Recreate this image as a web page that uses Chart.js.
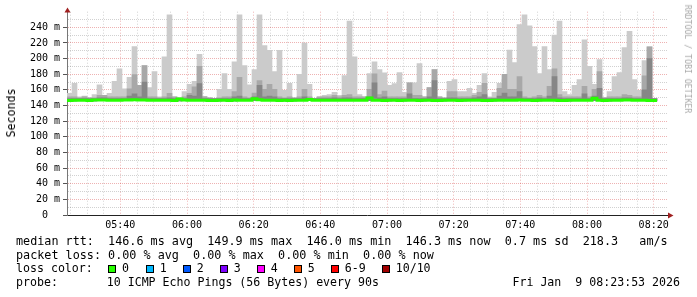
<!DOCTYPE html>
<html>
<head>
<meta charset="utf-8">
<script src="https://cdn.jsdelivr.net/npm/chart.js@4/dist/chart.umd.min.js"></script>
<style>
  body { margin: 0; background: #fff; }
  #wrap { position: relative; width: 697px; height: 297px; font-family: 'DejaVu Sans Mono', monospace; color: #000; }
  #chart { position: absolute; left: 0; top: 0; }
  .txt { position: absolute; white-space: pre; font-size: 11.6px; line-height: 14px; }
  .wide { font-size: 11.78px; }
  .box { position: absolute; top: 265px; width: 8px; height: 8px; box-sizing: border-box; border: 1px solid #000; }
  .rot { position: absolute; white-space: pre; transform: translate(-50%, -50%) rotate(-90deg); }
</style>
</head>
<body>
<div id="wrap">
  <canvas id="chart" width="697" height="297"></canvas>
  <div class="rot" style="left:10.5px; top:113px; font-size:11.6px;">Seconds</div>
  <div class="rot" style="left:687.5px; top:59px; font-size:8.2px; color:#a8a8a8; transform: translate(-50%, -50%) rotate(90deg);">RRDTOOL / TOBI OETIKER</div>
  <div class="txt wide" style="left:16px; top:234px;">median rtt:  146.6 ms avg  149.9 ms max  146.0 ms min  146.3 ms now  0.7 ms sd  218.3   am/s</div>
  <div class="txt wide" style="left:16px; top:247.7px;">packet loss: 0.00 % avg  0.00 % max  0.00 % min  0.00 % now</div>
  <div class="txt" style="left:16px; top:261.4px;">loss color:</div>
  <div class="txt" style="left:16px; top:275.1px;">probe:       10 ICMP Echo Pings (56 Bytes) every 90s</div>
  <div class="txt" style="right:17px; top:275.1px;">Fri Jan  9 08:23:53 2026</div>
</div>
<script>
// time slots: 90s steps starting 05:24 (minutes since midnight)
const startMin = 324;
const stepMin = 1.5;

// top of the smoke (max of 10 pings), ms
const maxRtt = [
  155.6, 168.3, 151, 152, 150, 154, 166.6, 153, 155.6, 170.8,
  187, 161.5, 176, 215.5, 165.7, 191, 163, 183.5, 151, 202.4,
  256, 151, 150, 158, 167, 170.8, 205.4, 151.8, 150, 149,
  160.7, 181, 160.7, 196, 256, 191, 166.6, 186, 256, 216.8,
  210.5, 183.5, 210.5, 159.4, 168.3, 150, 180, 220, 167, 149,
  151, 153, 154, 157, 153, 178.4, 248, 202.4, 154, 151,
  181, 196, 186, 181.8, 165.7, 168, 182, 157, 169, 169,
  193.6, 151, 163, 186, 151, 150, 171, 173.3, 158, 158,
  162, 155.6, 165.7, 181, 151, 157, 168.3, 173.3, 211, 195,
  243.4, 256, 242, 215.5, 181, 215.5, 186, 230, 248, 158,
  154, 165.7, 173.3, 224, 190, 167, 198.7, 150.5, 158, 177,
  182, 214, 235, 173.3, 159.4, 197.4, 215, 149
];

// second smoke band (ping 2..9), ms
const upperRtt = [
  151, 151, 150, 151, 150, 150, 153, 153, 151, 151,
  151, 151, 161.5, 179.7, 165.7, 191, 151, 151, 150, 151,
  155.6, 151, 150, 151, 155.6, 164, 190, 151, 150, 149,
  150, 151, 151, 158, 176, 151, 150, 156, 172, 160.7,
  167, 160.7, 151, 150, 151, 150, 151, 160.7, 151, 149,
  151, 151, 151, 153, 151, 153, 154, 151, 151, 151,
  160.7, 180.5, 154, 158.6, 151, 151, 151, 151, 169, 153,
  153, 151, 163, 186, 151, 150, 158, 158, 151, 151,
  151, 153, 157, 168.3, 150, 150, 162, 180, 160.7, 160.7,
  177, 151, 150, 151, 153, 151, 164.5, 187, 154, 151,
  151, 151, 151, 164.5, 151, 160.7, 183.5, 150, 151, 151,
  151, 154, 153, 151, 151, 178, 215, 149
];

// inner smoke band (ping 3..8), ms
const innerRtt = [
  149, 149, 149, 149, 149, 149, 150, 150, 149, 149,
  149, 149, 152, 155, 151, 170, 149, 149, 149, 149,
  150, 149, 149, 149, 153, 152, 168, 149, 149, 149,
  149, 149, 149, 151, 152, 149, 149, 151, 165.7, 151,
  152, 151, 149, 149, 149, 149, 149, 151, 149, 149,
  149, 149, 149, 150, 149, 150, 150, 149, 149, 149,
  151, 169, 150, 151, 149, 149, 149, 149, 155, 149,
  149, 149, 151, 172, 149, 149, 150, 150, 149, 149,
  149, 150, 151, 154, 149, 149, 152, 156, 151, 151,
  158, 149, 149, 149, 150, 149, 152, 177, 150, 149,
  149, 149, 149, 155, 149, 152, 162, 149, 149, 149,
  149, 150, 150, 149, 149, 160, 200, 149
];

// median rtt, ms
const medianRtt = [
  146.4, 146.4, 146.6, 146.6, 146.8, 146.4, 147.2, 147.2, 147.0, 146.6,
  146.6, 146.6, 147.2, 147.2, 147.4, 147.0, 147.0, 146.6, 146.6, 146.6,
  146.8, 146.6, 146.4, 148.4, 147.0, 146.6, 146.6, 146.8, 146.6, 146.4,
  146.4, 146.6, 146.6, 146.4, 147.0, 146.8, 146.6, 146.8, 148.8, 147.4,
  146.8, 146.6, 146.6, 146.4, 146.6, 146.4, 146.6, 146.8, 146.6, 147.8,
  146.6, 146.6, 146.8, 146.6, 146.6, 146.6, 146.8, 146.6, 146.6, 146.6,
  146.8, 149.6, 146.8, 146.6, 146.4, 146.6, 146.6, 146.4, 146.6, 146.6,
  146.6, 146.4, 146.6, 146.6, 146.4, 146.4, 146.6, 146.6, 146.6, 146.4,
  146.6, 146.6, 146.6, 146.8, 146.4, 146.4, 146.6, 146.6, 146.6, 146.6,
  146.8, 147.0, 146.6, 146.6, 146.4, 146.6, 146.6, 146.8, 146.6, 146.4,
  146.4, 146.6, 146.6, 146.6, 146.6, 146.6, 149.4, 146.6, 146.4, 146.6,
  146.6, 146.8, 147.2, 147.2, 146.6, 146.6, 146.8, 146.4
];

const yTicks = [0, 10, 20, 30, 40, 50, 60, 70, 80, 90, 100, 110, 120, 130, 140, 150, 160, 170, 180, 190, 200, 210, 220, 230, 240, 250];
const xTicks = [];
for (let t = 325; t <= 500; t += 5) xTicks.push(t);

const lossLabels = ['0', '1', '2', '3', '4', '5', '6-9', '10/10'];
const lossColors = ['#26ff00', '#00b8ff', '#0059ff', '#7e00ff', '#ff00ff', '#ff5500', '#ff0000', '#a10000'];
const lossBoxX = [108, 145.7, 182.7, 219.7, 256.7, 293.7, 330.7, 381.7];

// loss color legend
const wrap = document.getElementById('wrap');
lossLabels.forEach((lbl, i) => {
  const b = document.createElement('div');
  b.className = 'box';
  b.style.left = lossBoxX[i] + 'px';
  b.style.background = lossColors[i];
  wrap.appendChild(b);
  const t = document.createElement('div');
  t.className = 'txt';
  t.style.left = (lossBoxX[i] + 14) + 'px';
  t.style.top = '261.4px';
  t.textContent = lbl;
  wrap.appendChild(t);
});

const barX = i => startMin + stepMin * (i + 0.5);
const band = hi => hi.map((v, i) => ({ x: barX(i), y: [medianRtt[i] - 0.5, v] }));
const medianLine = medianRtt.map((v, i) => ({ x: startMin + stepMin * i, y: v }));
medianLine.push({ x: startMin + stepMin * medianRtt.length, y: medianRtt[medianRtt.length - 1] });

const hhmm = v => String(Math.floor(v / 60)).padStart(2, '0') + ':' + String(v % 60).padStart(2, '0');
const tickVal = c => (c.tick ? c.tick.value : 1);
const gridColor = c => tickVal(c) % 20 === 0 ? 'rgba(200,0,0,0.3)' : 'rgba(0,0,0,0.18)';

const barOpts = { type: 'bar', grouped: false, barPercentage: 1, categoryPercentage: 1, borderWidth: 0 };

// axis arrows
const arrows = {
  id: 'arrows',
  afterDraw(chart) {
    const { ctx, chartArea: a } = chart;
    ctx.save();
    ctx.strokeStyle = '#777';
    ctx.lineWidth = 1;
    ctx.beginPath();
    ctx.moveTo(67.5, a.top); ctx.lineTo(67.5, 10);
    ctx.stroke();
    ctx.strokeStyle = '#222';
    ctx.beginPath();
    ctx.moveTo(a.right, 215.5); ctx.lineTo(669, 215.5);
    ctx.stroke();
    ctx.fillStyle = '#a02020';
    ctx.beginPath();
    ctx.moveTo(64.5, 12.5); ctx.lineTo(70.5, 12.5); ctx.lineTo(67.5, 7.5);
    ctx.closePath(); ctx.fill();
    ctx.beginPath();
    ctx.moveTo(668, 212.5); ctx.lineTo(668, 218.5); ctx.lineTo(673.5, 215.5);
    ctx.closePath(); ctx.fill();
    ctx.restore();
  }
};

new Chart(document.getElementById('chart'), {
  type: 'bar',
  data: {
    datasets: [
      { ...barOpts, data: band(maxRtt), backgroundColor: '#cbcbcb', order: 5 },
      { ...barOpts, data: band(upperRtt), backgroundColor: '#a8a8a8', order: 4 },
      { ...barOpts, data: band(innerRtt), backgroundColor: '#868686', order: 3 },
      {
        type: 'line', data: medianLine, stepped: 'after', borderColor: '#26ff00',
        borderWidth: 3, pointRadius: 0, order: 1
      }
    ]
  },
  options: {
    responsive: false,
    animation: false,
    devicePixelRatio: 1,
    layout: { padding: { left: 0, right: 30, top: 11.7, bottom: 0 } },
    plugins: { legend: { display: false }, tooltip: { enabled: false } },
    scales: {
      x: {
        type: 'linear', min: 324, max: 504, z: 1, offset: false,
        afterBuildTicks: s => { s.ticks = xTicks.map(v => ({ value: v })); },
        afterFit: s => { s.height = 82; },
        grid: {
          offset: false, color: gridColor, tickLength: 3,
          tickColor: 'rgba(0,0,0,0)'
        },
        border: { color: '#222', width: 1, dash: [1, 2] },
        ticks: {
          autoSkip: false, maxRotation: 0, padding: 1, color: '#000',
          font: { family: 'DejaVu Sans Mono', size: 10 },
          callback: v => v % 20 === 0 ? hhmm(v) : ''
        }
      },
      y: {
        type: 'linear', min: 0, max: 260, z: 1,
        afterBuildTicks: s => { s.ticks = yTicks.map(v => ({ value: v })); },
        afterFit: s => { s.width = 67; },
        grid: {
          color: gridColor, tickLength: 4, tickBorderDash: [],
          tickColor: c => tickVal(c) % 20 === 0 ? '#555' : 'rgba(0,0,0,0)'
        },
        border: { color: '#777', width: 1, dash: [1, 1] },
        ticks: {
          autoSkip: false, padding: 3, color: '#000',
          font: { family: 'DejaVu Sans Mono', size: 10 },
          callback: v => v % 20 !== 0 ? '' : (v === 0 ? '0  ' : v + ' m')
        }
      }
    }
  },
  plugins: [arrows]
});
</script>
</body>
</html>
